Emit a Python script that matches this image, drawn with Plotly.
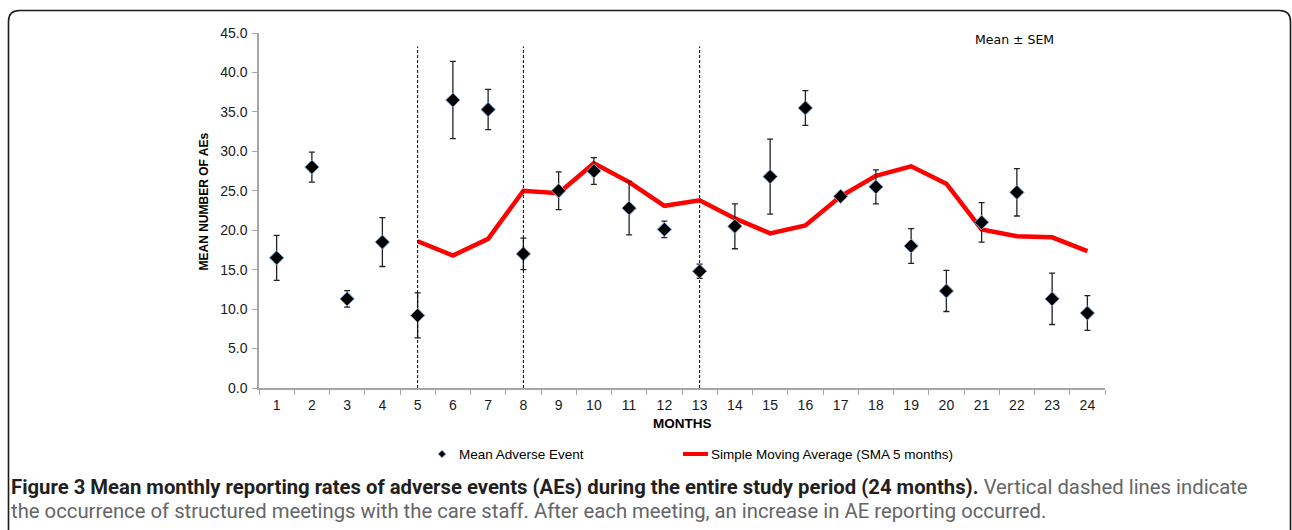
import plotly.graph_objects as go

months = list(range(1, 25))
mean_ae = [16.5, 28.0, 11.3, 18.5, 9.2, 36.5, 35.3, 17.0, 25.0, 27.5, 22.8, 20.1,
           14.8, 20.5, 26.8, 35.5, 24.3, 25.5, 18.0, 12.3, 21.0, 24.8, 11.3, 9.5]
sem_ae = [2.85, 1.9, 1.05, 3.1, 2.85, 4.9, 2.55, 2.0, 2.4, 1.7, 3.4, 1.05,
          0.9, 2.85, 4.75, 2.2, 0.5, 2.15, 2.2, 2.6, 2.5, 3.0, 3.25, 2.2]
sma_months = list(range(5, 25))
sma_values = [18.6, 16.8, 18.9, 25.0, 24.7, 28.5, 26.1, 23.1, 23.8, 21.5, 19.6, 20.6,
              24.3, 26.9, 28.1, 25.9, 20.1, 19.25, 19.1, 17.35]
meeting_months = [5, 8, 13]
y_ticks = [0, 5, 10, 15, 20, 25, 30, 35, 40, 45]

W, H = 1292, 530
ML, MR, MT, MB = 259, 187, 33, 142
PW = W - ML - MR
PH = H - MT - MB


def px(x):
    return (x - ML) / PW


def py(y):
    return (H - MB - y) / PH


fig = go.Figure()

fig.add_trace(go.Scatter(
    x=sma_months, y=sma_values, mode="lines",
    line=dict(color="#ff0000", width=4.5),
    name="Simple Moving Average (SMA 5 months)", hoverinfo="skip"))

fig.add_trace(go.Scatter(
    x=months, y=mean_ae, mode="markers",
    marker=dict(symbol="diamond", size=11, color="#000000",
                line=dict(color="#7fa6d6", width=1)),
    error_y=dict(type="data", array=sem_ae, visible=True,
                 color="#222222", thickness=1.3, width=3),
    name="Mean Adverse Event"))

shapes = []
for m in meeting_months:
    shapes.append(dict(type="line", xref="x", yref="y", x0=m, x1=m, y0=0, y1=43.3,
                       line=dict(color="#000000", width=1, dash="3px,2px")))

# rounded frame
L, T, R, B, r = 8.5, 10.5, 1290.5, 560, 11
path = (f"M {px(L)},{py(B)} L {px(L)},{py(T + r)} "
        f"Q {px(L)},{py(T)} {px(L + r)},{py(T)} "
        f"L {px(R - r)},{py(T)} Q {px(R)},{py(T)} {px(R)},{py(T + r)} "
        f"L {px(R)},{py(B)}")
shapes.append(dict(type="path", xref="paper", yref="paper", path=path,
                   line=dict(color="#1a1a1a", width=1.6)))

# legend marker (diamond) and line
cx, cy, d = 442, 454, 3.6
dpath = (f"M {px(cx)},{py(cy - d)} L {px(cx + d)},{py(cy)} "
         f"L {px(cx)},{py(cy + d)} L {px(cx - d)},{py(cy)} Z")
shapes.append(dict(type="path", xref="paper", yref="paper", path=dpath,
                   fillcolor="#000000", line=dict(color="#4f6f9f", width=0.8)))
shapes.append(dict(type="line", xref="paper", yref="paper",
                   x0=px(683), x1=px(708), y0=py(454), y1=py(454),
                   line=dict(color="#ff0000", width=4)))

ann = []
ann.append(dict(text="<b>MEAN NUMBER OF AEs</b>", xref="paper", yref="paper",
                x=px(203), y=py(201.5), textangle=-90, showarrow=False,
                xanchor="center", yanchor="middle",
                font=dict(family="Liberation Sans, Arial", size=12, color="#000000")))
ann.append(dict(text="<b>MONTHS</b>", xref="paper", yref="paper",
                x=px(682), y=py(423), showarrow=False, xanchor="center", yanchor="middle",
                font=dict(family="Liberation Sans, Arial", size=13.5, color="#000000")))
ann.append(dict(text="Mean Adverse Event", xref="paper", yref="paper",
                x=px(457), y=py(454), showarrow=False, xanchor="left", yanchor="middle",
                font=dict(family="Liberation Sans, Arial", size=13.5, color="#000000")))
ann.append(dict(text="Simple Moving Average (SMA 5 months)", xref="paper", yref="paper",
                x=px(709), y=py(454), showarrow=False, xanchor="left", yanchor="middle",
                font=dict(family="Liberation Sans, Arial", size=13.5, color="#000000")))
ann.append(dict(text="Mean \u00b1 SEM", xref="paper", yref="paper",
                x=px(1014), y=py(40), showarrow=False, xanchor="center", yanchor="middle",
                font=dict(family="DejaVu Sans", size=12.5, color="#000000")))

cap_font = dict(family="Roboto", size=20.3, color="#646567")
ann.append(dict(
    text=("<span style='color:#231f20'><b>Figure 3 Mean monthly reporting rates of adverse events (AEs) "
          "during the entire study period (24 months).</b></span> Vertical dashed lines indicate"),
    xref="paper", yref="paper", x=px(9), y=py(487), showarrow=False,
    xanchor="left", yanchor="middle", font=cap_font))
ann.append(dict(
    text=("the occurrence of structured meetings with the care staff. After each meeting, "
          "an increase in AE reporting occurred."),
    xref="paper", yref="paper", x=px(9), y=py(511), showarrow=False,
    xanchor="left", yanchor="middle", font=cap_font))

fig.update_layout(
    width=W, height=H,
    margin=dict(l=ML, r=MR, t=MT, b=MB, pad=0),
    paper_bgcolor="#ffffff", plot_bgcolor="#ffffff",
    showlegend=False,
    shapes=shapes, annotations=ann,
    xaxis=dict(range=[0.5, 24.5], tickvals=months, ticktext=[str(m) for m in months],
               ticks="", showgrid=False, zeroline=False,
               showline=True, linecolor="#a6a6a6", linewidth=1.5,
               tickfont=dict(family="Liberation Sans, Arial", size=14, color="#1a1a1a"),
               ticklabelstandoff=3,
               minor=dict(tick0=0.5, dtick=1, ticks="outside", ticklen=5,
                          tickcolor="#a6a6a6", tickwidth=1.2, showgrid=False)),
    yaxis=dict(range=[0, 45], tickvals=y_ticks, ticktext=[f"{v:.1f}" for v in y_ticks],
               ticks="outside", ticklen=5, tickcolor="#a6a6a6", tickwidth=1.2,
               showgrid=False, zeroline=False,
               showline=True, linecolor="#a6a6a6", linewidth=1.5,
               tickfont=dict(family="Liberation Sans, Arial", size=14, color="#1a1a1a"),
               ticklabelstandoff=2),
)

fig.write_html("out.html", config={"displayModeBar": False},
               post_script="document.body.style.margin='0';document.body.style.overflow='hidden';")
